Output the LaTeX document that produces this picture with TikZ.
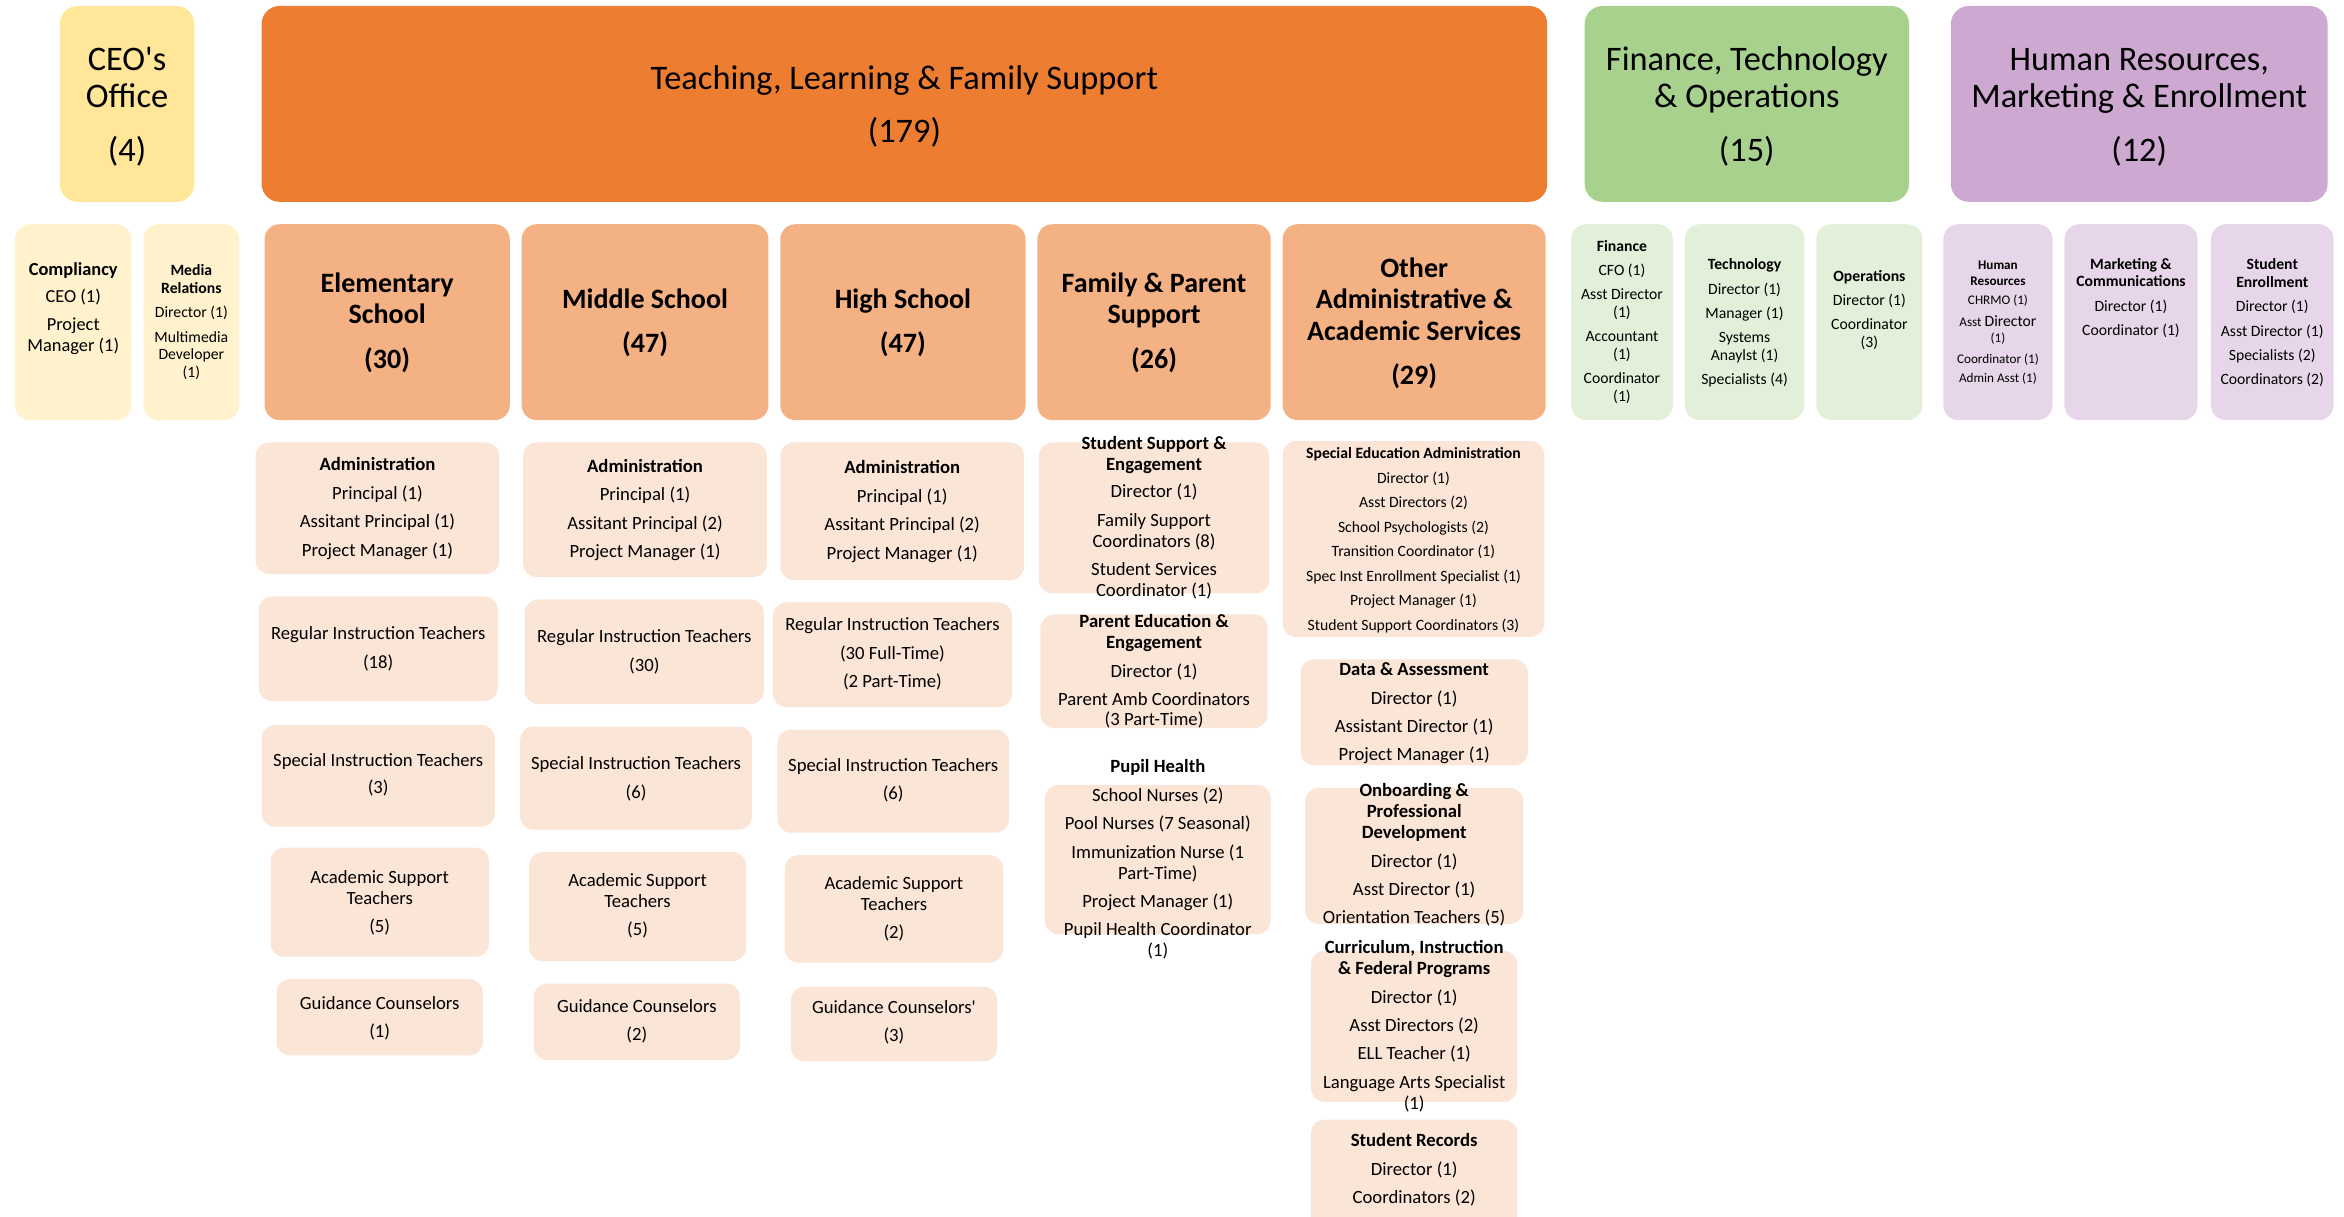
\documentclass[tikz,border=0pt]{standalone}
\usepackage{fontspec}
\setmainfont{Carlito}[Ligatures=TeXOff]
\usepackage{tikz}
\definecolor{ceoTop}{HTML}{FFE699}
\definecolor{ceoSub}{HTML}{FFF2CC}
\definecolor{tlTop}{HTML}{ED7D31}
\definecolor{tlSub}{HTML}{F4B183}
\definecolor{tlDet}{HTML}{FBE5D6}
\definecolor{ftTop}{HTML}{A9D18E}
\definecolor{ftSub}{HTML}{E2F0D9}
\definecolor{hrTop}{HTML}{CDA9D1}
\definecolor{hrSub}{HTML}{E7D6E9}
\tikzset{
  topbox/.style={fill=#1, rounded corners=12pt, inner sep=0pt},
  subbox/.style={fill=#1, rounded corners=10pt, inner sep=0pt},
  detbox/.style={fill=tlDet, rounded corners=9pt, inner sep=0pt},
  lbl/.style={anchor=base, align=center, inner sep=0pt},
  big/.style={font=\fontsize{23}{25}\selectfont},
  head/.style={font=\bfseries\fontsize{18.75}{21}\selectfont},
  det/.style={font=\fontsize{12.5}{14}\selectfont},
  sml/.style={font=\fontsize{10.5}{11.8}\selectfont}
}

\begin{document}
\begin{tikzpicture}[x=1pt, y=-1pt]
  \useasboundingbox (0,0) rectangle (1568,814);

  % top row
  \node[topbox=ceoTop, minimum width=90pt, minimum height=131pt] (ceo) at (85,69.5) {};
  \node[topbox=tlTop, minimum width=860pt, minimum height=131pt] (tlfs) at (605,69.5) {};
  \node[topbox=ftTop, minimum width=217pt, minimum height=131pt] (fto) at (1168.5,69.5) {};
  \node[topbox=hrTop, minimum width=252pt, minimum height=131pt] (hrme) at (1431,69.5) {};
  \node[lbl, big] (ceo-t) at (85,108) {CEO's\\Office\\[11pt](4)};
  \node[lbl, big] (tlfs-t) at (605,95) {Teaching, Learning \& Family Support\\[10pt](179)};
  \node[lbl, big] (fto-t) at (1168.5,108) {Finance, Technology\\\& Operations\\[11pt](15)};
  \node[lbl, big] (hrme-t) at (1431,108) {Human Resources,\\Marketing \& Enrollment\\[11pt](12)};

  % second row
  \node[subbox=ceoSub, minimum width=78pt, minimum height=131pt] (comp) at (49,215.5) {};
  \node[subbox=ceoSub, minimum width=64pt, minimum height=131pt] (media) at (128,215.5) {};
  \node[subbox=tlSub, minimum width=164pt, minimum height=131pt] (elem) at (259,215.5) {};
  \node[subbox=tlSub, minimum width=165pt, minimum height=131pt] (mid) at (431.5,215.5) {};
  \node[subbox=tlSub, minimum width=164pt, minimum height=131pt] (high) at (604,215.5) {};
  \node[subbox=tlSub, minimum width=156pt, minimum height=131pt] (fam) at (772,215.5) {};
  \node[subbox=tlSub, minimum width=176pt, minimum height=131pt] (oth) at (946,215.5) {};
  \node[subbox=ftSub, minimum width=68pt, minimum height=131pt] (fin) at (1085,215.5) {};
  \node[subbox=ftSub, minimum width=80pt, minimum height=131pt] (tech) at (1167,215.5) {};
  \node[subbox=ftSub, minimum width=71pt, minimum height=131pt] (ops) at (1250.5,215.5) {};
  \node[subbox=hrSub, minimum width=73pt, minimum height=131pt] (hres) at (1336.5,215.5) {};
  \node[subbox=hrSub, minimum width=89pt, minimum height=131pt] (mkt) at (1425.5,215.5) {};
  \node[subbox=hrSub, minimum width=82pt, minimum height=131pt] (enr) at (1520,215.5) {};

  \node[lbl, font=\fontsize{12.3}{14}\selectfont] (comp-t) at (49,235)
    {\textbf{Compliancy}\\[4.5pt]CEO (1)\\[4.5pt]Project\\Manager (1)};
  \node[lbl, sml] (media-t) at (128,252.5)
    {\textbf{Media}\\\textbf{Relations}\\[4.5pt]Director (1)\\[4.5pt]Multimedia\\Developer\\(1)};
  \node[lbl, head] (elem-t) at (259,246.5) {Elementary\\School\\[9pt](30)};
  \node[lbl, head] (mid-t) at (431.5,235.5) {Middle School\\[8pt](47)};
  \node[lbl, head] (high-t) at (604,235.5) {High School\\[8pt](47)};
  \node[lbl, head] (fam-t) at (772,246.5) {Family \& Parent\\Support\\[9pt](26)};
  \node[lbl, head] (oth-t) at (946,257.5) {Other\\Administrative \&\\Academic Services\\[9pt](29)};
  \node[lbl, sml] (fin-t) at (1085,268.5)
    {\textbf{Finance}\\[4.5pt]CFO (1)\\[4.5pt]Asst Director\\(1)\\[4.5pt]Accountant\\(1)\\[4.5pt]Coordinator\\(1)};
  \node[lbl, sml] (tech-t) at (1167,257.5)
    {\textbf{Technology}\\[4.5pt]Director (1)\\[4.5pt]Manager (1)\\[4.5pt]Systems\\Anaylst (1)\\[4.5pt]Specialists (4)};
  \node[lbl, sml] (ops-t) at (1250.5,232.5)
    {\textbf{Operations}\\[4.5pt]Director (1)\\[4.5pt]Coordinator\\(3)};
  \node[lbl, font=\fontsize{8.8}{10.5}\selectfont] (hres-t) at (1336.5,256)
    {\textbf{Human}\\\textbf{Resources}\\[2.5pt]CHRMO (1)\\[4pt]Asst {\fontsize{10.5}{10.5}\selectfont Director}\\(1)\\[3.5pt]Coordinator (1)\\[2.5pt]Admin Asst (1)};
  \node[lbl, sml] (mkt-t) at (1425.5,224.5)
    {\textbf{Marketing \&}\\\textbf{Communications}\\[4.5pt]Director (1)\\[4.5pt]Coordinator (1)};
  \node[lbl, sml] (enr-t) at (1520,257.5)
    {\textbf{Student}\\\textbf{Enrollment}\\[4.5pt]Director (1)\\[4.5pt]Asst Director (1)\\[4.5pt]Specialists (2)\\[4.5pt]Coordinators (2)};

  % elementary school
  \node[detbox, minimum width=163pt, minimum height=88pt] (el-adm) at (252.5,340) {};
  \node[detbox, minimum width=160pt, minimum height=70pt] (el-reg) at (253,434) {};
  \node[detbox, minimum width=156pt, minimum height=68pt] (el-spe) at (253,519) {};
  \node[detbox, minimum width=146pt, minimum height=73pt] (el-aca) at (254,603.5) {};
  \node[detbox, minimum width=138pt, minimum height=51pt] (el-gui) at (254,680.5) {};
  \node[lbl, det] (el-adm-t) at (252.5,372)
    {\textbf{Administration}\\[5pt]Principal (1)\\[5pt]Assitant Principal (1)\\[5pt]Project Manager (1)};
  \node[lbl, det] (el-reg-t) at (253,447) {Regular Instruction Teachers\\[5pt](18)};
  \node[lbl, det] (el-spe-t) at (253,531) {Special Instruction Teachers\\[4pt](3)};
  \node[lbl, det] (el-aca-t) at (254,624) {Academic Support\\Teachers\\[5pt](5)};
  \node[lbl, det] (el-gui-t) at (254,694) {Guidance Counselors\\[5pt](1)};

  % middle school
  \node[detbox, minimum width=163pt, minimum height=90pt] (mi-adm) at (431.5,341) {};
  \node[detbox, minimum width=160pt, minimum height=70pt] (mi-reg) at (431,436) {};
  \node[detbox, minimum width=155pt, minimum height=69pt] (mi-spe) at (425.5,520.5) {};
  \node[detbox, minimum width=145pt, minimum height=73pt] (mi-aca) at (426.5,606.5) {};
  \node[detbox, minimum width=138pt, minimum height=51pt] (mi-gui) at (426,683.5) {};
  \node[lbl, det] (mi-adm-t) at (431.5,373)
    {\textbf{Administration}\\[5pt]Principal (1)\\[5pt]Assitant Principal (2)\\[5pt]Project Manager (1)};
  \node[lbl, det] (mi-reg-t) at (431,449) {Regular Instruction Teachers\\[5pt](30)};
  \node[lbl, det] (mi-spe-t) at (425.5,534) {Special Instruction Teachers\\[5pt](6)};
  \node[lbl, det] (mi-aca-t) at (426.5,626) {Academic Support\\Teachers\\[5pt](5)};
  \node[lbl, det] (mi-gui-t) at (426,696) {Guidance Counselors\\[5pt](2)};

  % high school
  \node[detbox, minimum width=163pt, minimum height=92pt] (hi-adm) at (603.5,342) {};
  \node[detbox, minimum width=160pt, minimum height=70pt] (hi-reg) at (597,438) {};
  \node[detbox, minimum width=155pt, minimum height=69pt] (hi-spe) at (597.5,522.5) {};
  \node[detbox, minimum width=146pt, minimum height=72pt] (hi-aca) at (598,608) {};
  \node[detbox, minimum width=138pt, minimum height=50pt] (hi-gui) at (598,685) {};
  \node[lbl, det] (hi-adm-t) at (603.5,374)
    {\textbf{Administration}\\[5pt]Principal (1)\\[5pt]Assitant Principal (2)\\[5pt]Project Manager (1)};
  \node[lbl, det] (hi-reg-t) at (597,460)
    {Regular Instruction Teachers\\[5pt](30 Full-Time)\\[5pt](2 Part-Time)};
  \node[lbl, det] (hi-spe-t) at (597.5,535) {Special Instruction Teachers\\[5pt](6)};
  \node[lbl, det] (hi-aca-t) at (598,628) {Academic Support\\Teachers\\[5pt](2)};
  \node[lbl, det] (hi-gui-t) at (598,697) {Guidance Counselors'\\[5pt](3)};

  % family & parent support
  \node[detbox, minimum width=154pt, minimum height=101pt] (fa-sse) at (772,346.5) {};
  \node[detbox, minimum width=152pt, minimum height=76pt] (fa-pee) at (772,449) {};
  \node[detbox, minimum width=151pt, minimum height=100pt] (fa-ph) at (774.5,575) {};
  \node[lbl, det] (fa-sse-t) at (772,399)
    {\textbf{Student Support \&}\\\textbf{Engagement}\\[4pt]Director (1)\\[5pt]Family Support\\Coordinators (8)\\[5pt]Student Services\\Coordinator (1)};
  \node[lbl, det] (fa-pee-t) at (772,485)
    {\textbf{Parent Education \&}\\\textbf{Engagement}\\[5pt]Director (1)\\[5pt]Parent Amb Coordinators\\[-1pt](3 Part-Time)};
  \node[lbl, det] (fa-ph-t) at (774.5,640)
    {\textbf{Pupil Health}\\[5pt]School Nurses (2)\\[5pt]Pool Nurses (7 Seasonal)\\[5pt]Immunization Nurse (1\\Part-Time)\\[5pt]Project Manager (1)\\[5pt]Pupil Health Coordinator\\(1)};

  % other administrative & academic services
  \node[detbox, minimum width=175pt, minimum height=131pt] (ot-sea) at (945.5,360.5) {};
  \node[detbox, minimum width=152pt, minimum height=71pt] (ot-da) at (946,476.5) {};
  \node[detbox, minimum width=146pt, minimum height=91pt] (ot-opd) at (946,572.5) {};
  \node[detbox, minimum width=138pt, minimum height=101pt] (ot-cif) at (946,686.5) {};
  \node[detbox, minimum width=138pt, minimum height=81pt] (ot-rec) at (946,789.5) {};
  \node[lbl, font=\fontsize{10.5}{16.4}\selectfont] (ot-sea-t) at (945.5,421.5)
    {\textbf{Special Education Administration}\\Director (1)\\Asst Directors (2)\\School Psychologists (2)\\Transition Coordinator (1)\\Spec Inst Enrollment Specialist (1)\\Project Manager (1)\\Student Support Coordinators (3)};
  \node[lbl, det] (ot-da-t) at (946,509)
    {\textbf{Data \& Assessment}\\[5pt]Director (1)\\[5pt]Assistant Director (1)\\[5pt]Project Manager (1)};
  \node[lbl, det] (ot-opd-t) at (946,618)
    {\textbf{Onboarding \&}\\\textbf{Professional}\\\textbf{Development}\\[5pt]Director (1)\\[5pt]Asst Director (1)\\[5pt]Orientation Teachers (5)};
  \node[lbl, det] (ot-cif-t) at (946,742)
    {\textbf{Curriculum, Instruction}\\\textbf{\& Federal Programs}\\[5pt]Director (1)\\[5pt]Asst Directors (2)\\[5pt]ELL Teacher (1)\\[5pt]Language Arts Specialist\\(1)};
  \node[lbl, det] (ot-rec-t) at (946,805)
    {\textbf{Student Records}\\[5pt]Director (1)\\[5pt]Coordinators (2)};
\end{tikzpicture}
\end{document}
